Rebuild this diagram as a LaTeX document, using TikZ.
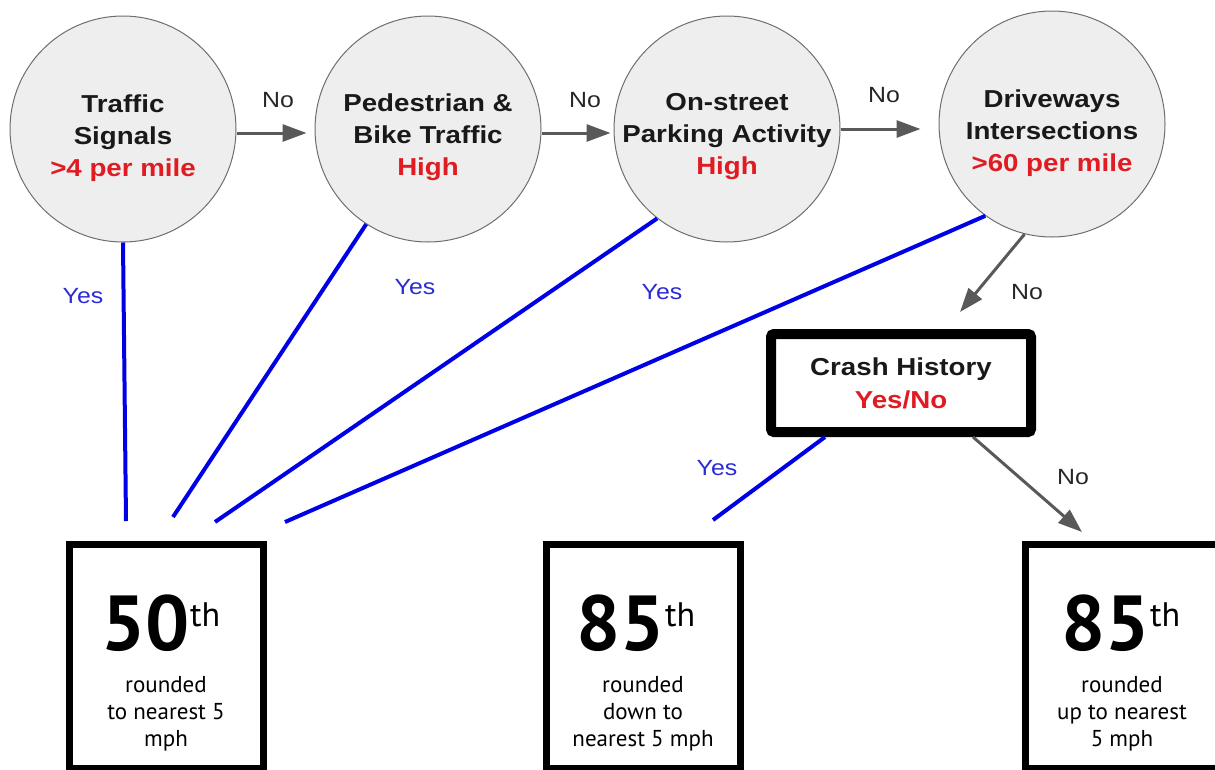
\documentclass[tikz,border=0pt]{standalone}
\usepackage{fontspec}
\setmainfont{Liberation Sans}[FakeStretch=1.13]
\newfontfamily\boxfont{PT Sans}
\usetikzlibrary{arrows.meta}
\definecolor{cfill}{HTML}{EEEEEE}
\definecolor{cedge}{HTML}{6E6E6E}
\definecolor{hired}{HTML}{E01B22}
\definecolor{yesblue}{HTML}{0000E6}
\definecolor{yestext}{HTML}{2B2BD6}
\definecolor{noarr}{HTML}{595959}

\begin{document}
\begin{tikzpicture}[x=1pt, y=-1pt,
  cond/.style={circle, draw=cedge, fill=cfill, line width=1pt, minimum size=226pt, inner sep=0pt},
  condtxt/.style={align=center, text=black!90, font=\fontsize{24.5}{32}\selectfont\bfseries},
  crashbox/.style={draw, line width=10pt, rounded corners=3pt, minimum width=260pt, minimum height=98pt, align=center, text=black!90, font=\fontsize{24.5}{33}\selectfont\bfseries},
  pctbox/.style={draw, line width=7pt, minimum width=194pt, minimum height=224pt},
  pct/.style={anchor=base, inner sep=0pt, font=\boxfont\fontsize{78}{78}\selectfont\bfseries},
  rnd/.style={align=center, font=\boxfont\fontsize{23}{27}\selectfont},
  yes/.style={yesblue, line width=4pt},
  no/.style={noarr, line width=3pt, -{Triangle[length=24pt,width=17pt]}},
  yeslbl/.style={text=yestext, font=\fontsize{22}{22}\selectfont},
  nolbl/.style={text=black!85, font=\fontsize{22}{22}\selectfont}]
\useasboundingbox (0,0) rectangle (1215,769);

% decision circles
\node[cond] (sig) at (123,129) {};
\node[condtxt] (sigt) at (123,138) {Traffic\\Signals\\\textcolor{hired}{>4 per mile}};
\node[cond] (ped) at (428,129) {};
\node[condtxt] (pedt) at (428,137) {Pedestrian \&\\Bike Traffic\\\textcolor{hired}{High}};
\node[cond] (park) at (727,129) {};
\node[condtxt] (parkt) at (727,137) {On-street\\Parking Activity\\\textcolor{hired}{High}};
\node[cond] (drive) at (1052,124) {};
\node[condtxt] (drivet) at (1052,133) {Driveways\\Intersections\\\textcolor{hired}{>60 per mile}};

\node[crashbox] (crash) at (901,383) {Crash History\\\textcolor{hired}{Yes/No}};

% result boxes
\node[pctbox] (b50) at (166.5,656) {};
\node[pct] (p50) at (161,650) {50\raisebox{24pt}{\fontsize{34}{34}\selectfont\mdseries th}};
\node[rnd] (r50) at (166,714) {rounded\\to nearest 5\\mph};
\node[pctbox] (b85d) at (643,656) {};
\node[pct] (p85d) at (636,650) {85\raisebox{24pt}{\fontsize{34}{34}\selectfont\mdseries th}};
\node[rnd] (r85d) at (643,714) {rounded\\down to\\nearest 5 mph};
\node[pctbox] (b85u) at (1122,656) {};
\node[pct] (p85u) at (1121,650) {85\raisebox{24pt}{\fontsize{34}{34}\selectfont\mdseries th}};
\node[rnd] (r85u) at (1122,714) {rounded\\up to nearest\\5 mph};

% free ends
\coordinate (e1) at (126,521);
\coordinate (e2) at (173,517);
\coordinate (e3) at (215,522);
\coordinate (e4) at (285,522);
\coordinate (e5) at (713,520);
\coordinate (tipc) at (960,312);
\coordinate (tipb) at (1082,532);

% no branches
\draw[no, shorten >=8pt] ([yshift=-4pt]sig.east) -- ([yshift=-4pt]ped.west);
\draw[no, shorten >=3pt] ([yshift=-4pt]ped.east) -- ([yshift=-4pt]park.west);
\draw[no, shorten >=18pt] (park.east) -- (park.east -| drive.west);
\draw[no] (drive.256) -- (tipc);
\draw[no] ([xshift=72pt]crash.south) -- (tipb);

% yes branches
\draw[yes] (sig.south) -- (e1);
\draw[yes] (ped.237) -- (e2);
\draw[yes] (park.232) -- (e3);
\draw[yes] (drive.234) -- (e4);
\draw[yes] ([xshift=-76pt]crash.south) -- (e5);

\node[nolbl] (n1) at (278,100) {No};
\node[nolbl] (n2) at (585,100) {No};
\node[nolbl] (n3) at (884,95) {No};
\node[nolbl] (n4) at (1027,292) {No};
\node[nolbl] (n5) at (1073,477) {No};
\node[yeslbl] (y1) at (83,296) {Yes};
\node[yeslbl] (y2) at (415,287) {Yes};
\node[yeslbl] (y3) at (662,292) {Yes};
\node[yeslbl] (y4) at (717,468) {Yes};
\end{tikzpicture}
\end{document}
